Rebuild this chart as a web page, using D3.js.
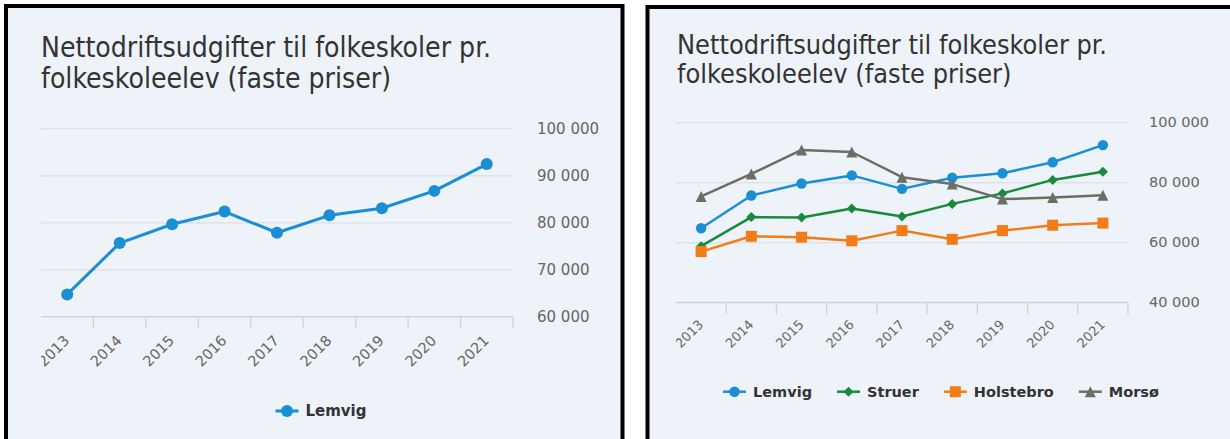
<!DOCTYPE html>
<html>
<head>
<meta charset="utf-8">
<script src="https://cdn.jsdelivr.net/npm/d3@7"></script>
<style>
  body { margin: 0; background: #fff; }
  svg { display: block; }
</style>
</head>
<body>
<svg id="root" width="1230" height="439"></svg>
<script>
var years = ['2013', '2014', '2015', '2016', '2017', '2018', '2019', '2020', '2021'];
var lemvig = [64700, 75600, 79600, 82300, 77800, 81500, 83000, 86700, 92400];
var struer = [58700, 68400, 68300, 71300, 68600, 72800, 76300, 80800, 83500];
var holstebro = [56900, 62000, 61700, 60500, 63900, 61000, 63900, 65700, 66400];
var morso = [75300, 82800, 90800, 90100, 81700, 79400, 74400, 74900, 75700];
var leftTicks = [60000, 70000, 80000, 90000, 100000];
var rightTicks = [40000, 60000, 80000, 100000];
var titleLines = ['Nettodriftsudgifter til folkeskoler pr.', 'folkeskoleelev (faste priser)'];
var names = ['Lemvig', 'Struer', 'Holstebro', 'Morsø'];
var colors = ['#1a8fd6', '#188a3c', '#f27d17', '#6e6d63'];
var symbols = ['circle', 'diamond', 'square', 'triangle'];

var FONT = '"DejaVu Sans", "Liberation Sans", sans-serif'
var TITLE_FONT = '"DejaVu Sans Condensed", "DejaVu Sans", sans-serif'
var fmt = function (v) { return d3.format(',')(v).replace(/,/g, ' ') }

var svg = d3.select('#root')

// the two cards
svg.append('rect').attr('x', 6).attr('y', 6).attr('width', 616.5).attr('height', 500)
    .attr('fill', '#eef2f9').attr('stroke', '#000').attr('stroke-width', 4)
svg.append('rect').attr('x', 647.5).attr('y', 7).attr('width', 700).attr('height', 500)
    .attr('fill', '#eef2f9').attr('stroke', '#000').attr('stroke-width', 4)

function markPath(type, r) {
    if (type == 'circle') return d3.symbol(d3.symbolCircle, Math.PI * r * r)()
    if (type == 'square') return 'M' + (-r) + ',' + (-r) + 'h' + 2 * r + 'v' + 2 * r + 'h' + (-2 * r) + 'Z'
    if (type == 'diamond') return 'M0,' + (-r) + 'L' + r + ',0L0,' + r + 'L' + (-r) + ',0Z'
    return 'M0,' + (-r) + 'L' + r + ',' + r + 'L' + (-r) + ',' + r + 'Z'
}

function drawChart(o) {
    var g = svg.append('g')
    var x = d3.scaleBand().domain(years).range([o.x0, o.x1])
    var y = d3.scaleLinear().domain(o.domain).range([o.yBot, o.yTop])

    // title, fitted to the width of the first line
    var t = g.append('g').attr('fill', '#333').style('font-family', TITLE_FONT).style('font-size', '24px')
    titleLines.forEach(function (s, i) {
        t.append('text').attr('x', o.titleX).attr('y', o.titleY[i]).text(s)
    })
    var w = t.select('text').node().getComputedTextLength()
    t.style('font-size', (24 * o.titleW / w) + 'px')

    // gridlines + y labels on the right
    var ya = g.append('g').attr('transform', 'translate(' + o.x0 + ',0)')
        .call(d3.axisRight(y).tickValues(o.ticks).tickSize(o.x1 - o.x0).tickPadding(o.yPad).tickFormat(fmt))
    ya.select('.domain').remove()
    ya.selectAll('line').attr('stroke', '#d7dbe0')
    ya.selectAll('text').attr('fill', '#666').style('font-size', o.yFont + 'px').style('font-family', FONT)

    // x axis
    var xa = g.append('g').attr('transform', 'translate(0,' + o.yBot + ')')
    xa.append('line').attr('x1', o.x0).attr('x2', o.x1).attr('stroke', '#c5d3e3').attr('stroke-width', 1.2)
    xa.selectAll('line.tk').data(years).enter().append('line').attr('class', 'tk')
        .attr('x1', function (d) { return x(d) + x.bandwidth() })
        .attr('x2', function (d) { return x(d) + x.bandwidth() })
        .attr('y1', 0).attr('y2', 12)
        .attr('stroke', '#c5d3e3').attr('stroke-width', 1.2)

    var clipId = 'clip' + o.id
    svg.append('clipPath').attr('id', clipId).append('rect')
        .attr('x', o.x0).attr('y', 0).attr('width', 700).attr('height', 439)
    xa.append('g').attr('clip-path', 'url(#' + clipId + ')')
        .selectAll('text').data(years).enter().append('text')
        .attr('transform', function (d) {
            return 'translate(' + (x(d) + x.bandwidth() / 2 + 3) + ',' + o.xLabY + ') rotate(-45)'
        })
        .attr('text-anchor', 'end')
        .attr('fill', '#666')
        .style('font-size', o.xFont + 'px').style('font-family', FONT)
        .text(function (d) { return d })

    // series
    o.series.forEach(function (s) {
        var line = d3.line()
            .x(function (d, i) { return x(years[i]) + x.bandwidth() / 2 })
            .y(function (d) { return y(d) })
        g.append('path').datum(s.values)
            .attr('d', line).attr('fill', 'none')
            .attr('stroke', colors[s.k]).attr('stroke-width', o.lineW)
            .attr('stroke-linejoin', 'round')
        g.selectAll(null).data(s.values).enter().append('path')
            .attr('d', markPath(symbols[s.k], o.markR[symbols[s.k]]))
            .attr('transform', function (d, i) {
                return 'translate(' + (x(years[i]) + x.bandwidth() / 2) + ',' + y(d) + ')'
            })
            .attr('fill', colors[s.k])
    })

    // legend
    var lg = g.append('g')
    var items = o.series.map(function (s) {
        var it = lg.append('g')
        it.append('line').attr('x1', 0).attr('x2', 23).attr('stroke', colors[s.k]).attr('stroke-width', o.lineW)
        it.append('path').attr('d', markPath(symbols[s.k], o.markR[symbols[s.k]]))
            .attr('transform', 'translate(11.5,0)').attr('fill', colors[s.k])
        var tx = it.append('text').attr('x', 30).attr('dy', '0.36em')
            .attr('fill', '#333').style('font-weight', 'bold')
            .style('font-size', o.legFont + 'px').style('font-family', FONT)
            .text(names[s.k])
        return { g: it, w: 30 + tx.node().getComputedTextLength() }
    })
    var total = d3.sum(items, function (d) { return d.w }) + (items.length - 1) * 25
    var cx = o.legCx - total / 2
    items.forEach(function (d) {
        d.g.attr('transform', 'translate(' + cx + ',' + o.legY + ')')
        cx += d.w + 25
    })
}

drawChart({
    id: 'L', x0: 41, x1: 513, yTop: 128.3, yBot: 316.5, domain: [60000, 100000], ticks: leftTicks,
    titleX: 41, titleY: [57.3, 87.8], titleW: 450,
    yPad: 24, yFont: 15, xFont: 14.5, xLabY: 25,
    lineW: 3, markR: { circle: 6 },
    legCx: 321, legY: 411, legFont: 15,
    series: [{ k: 0, values: lemvig }]
})

drawChart({
    id: 'R', x0: 676, x1: 1128, yTop: 122.3, yBot: 302.3, domain: [40000, 100000], ticks: rightTicks,
    titleX: 677, titleY: [54.3, 83], titleW: 430,
    yPad: 21, yFont: 14.5, xFont: 13, xLabY: 23,
    lineW: 2.5, markR: { circle: 5.2, diamond: 5, square: 5.5, triangle: 5.5 },
    legCx: 941, legY: 391.7, legFont: 14.5,
    series: [{ k: 0, values: lemvig }, { k: 1, values: struer }, { k: 2, values: holstebro }, { k: 3, values: morso }]
})
</script>
</body>
</html>
